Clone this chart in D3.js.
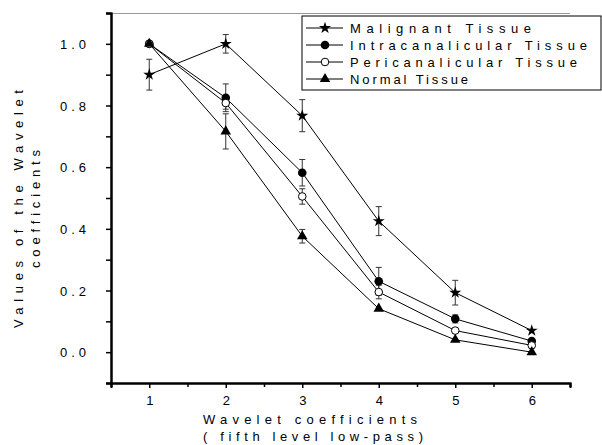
<!DOCTYPE html>
<html>
<head>
<meta charset="utf-8">
<script src="https://cdn.jsdelivr.net/npm/d3@7"></script>
<style>
body{margin:0;background:#fff;}
text{font-family:"Liberation Sans",Arial,sans-serif;fill:#000;}
</style>
</head>
<body>
<script>
const svg_width = 602, svg_height = 445;
// data
var coefs = [1,2,3,4,5,6];
var seriesNames = ["Malignant Tissue","Intracanalicular Tissue","Pericanalicular Tissue","Normal Tissue"];
var malignant = [0.90,1.00,0.767,0.425,0.193,0.070];
var malignantErr = [0.05,0.03,0.052,0.047,0.04,0];
var intra = [1.00,0.825,0.582,0.230,0.108,0.036];
var intraErr = [0,0.045,0.043,0.045,0.013,0];
var peri = [1.00,0.808,0.505,0.195,0.070,0.022];
var periErr = [0,0.02,0.025,0.022,0,0];
var normal = [1.00,0.716,0.376,0.141,0.040,0.000];
var normalErr = [0,0.057,0.022,0,0,0];
var yTicks = [0.0,0.2,0.4,0.6,0.8,1.0];
var yMinor = [-0.1,0.1,0.3,0.5,0.7,0.9,1.1];
var xMinor = [0.5,1.5,2.5,3.5,4.5,5.5,6.5];

var series = [
	{name:seriesNames[0],vals:malignant,err:malignantErr,sym:"star"},
	{name:seriesNames[1],vals:intra,err:intraErr,sym:"dot"},
	{name:seriesNames[2],vals:peri,err:periErr,sym:"open"},
	{name:seriesNames[3],vals:normal,err:normalErr,sym:"tri"}
];

var pLeft = 111, pRight = 570, pTop = 13, pBottom = 383;
var svgContainer = d3.select("body").append("svg")
	.attr("width",svg_width).attr("height",svg_height);

var x = d3.scaleLinear().domain([0.5,6.5]).range([pLeft,pRight]);
var y = d3.scaleLinear().domain([-0.1,1.1]).range([pBottom,pTop]);

// top frame line (grey)
svgContainer.append("line")
	.attr("x1",pLeft).attr("x2",pRight).attr("y1",pTop+0.5).attr("y2",pTop+0.5)
	.attr("stroke","#999").attr("stroke-width",1);

// y axis
var yAxis = svgContainer.append("g").attr("transform","translate("+pLeft+",0)")
	.call(d3.axisLeft(y).tickValues(yTicks).tickSize(5).tickPadding(16).tickFormat(d3.format(".1f")));
svgContainer.append("g").attr("transform","translate("+pLeft+",0)")
	.call(d3.axisLeft(y).tickValues(yMinor).tickSize(5).tickFormat(""));
// x axis
var xAxis = svgContainer.append("g").attr("transform","translate(0,"+pBottom+")")
	.call(d3.axisBottom(x).tickValues(coefs).tickSize(5).tickPadding(8).tickFormat(d3.format("d")));
svgContainer.append("g").attr("transform","translate(0,"+pBottom+")")
	.call(d3.axisBottom(x).tickValues(xMinor).tickSize(4).tickFormat(""));

svgContainer.selectAll(".domain").attr("stroke","#000").attr("stroke-width",2);
svgContainer.selectAll(".tick line").attr("stroke","#000").attr("stroke-width",1.5);
yAxis.selectAll("text").attr("font-size",13).attr("letter-spacing","4px").attr("dy","0.35em")
	.attr("font-family","Liberation Sans, Arial, sans-serif");
xAxis.selectAll("text").attr("font-size",13)
	.attr("font-family","Liberation Sans, Arial, sans-serif");

// axis titles
var ytitle = svgContainer.append("g").attr("transform","translate(0,209) rotate(-90)");
ytitle.append("text").attr("x",0).attr("y",23).attr("text-anchor","middle").attr("font-size",13)
	.attr("textLength",238).attr("lengthAdjust","spacing").text("Values of the Wavelet");
ytitle.append("text").attr("x",0).attr("y",40).attr("text-anchor","middle").attr("font-size",13)
	.attr("textLength",118).attr("lengthAdjust","spacing").text("coefficients");
svgContainer.append("text").attr("x",203).attr("y",424).attr("font-size",13)
	.attr("textLength",214).attr("lengthAdjust","spacing").text("Wavelet coefficients");
svgContainer.append("text").attr("x",203).attr("y",441).attr("font-size",13)
	.attr("textLength",220).attr("lengthAdjust","spacing").text("( fifth level low-pass)");

var line = d3.line().x(function(d,i){return x(coefs[i])}).y(function(d){return y(d)});

function drawSymbol(g,sym,cx,cy){
	if (sym=="star") {
		g.append("path").attr("d",d3.symbol().type(d3.symbolStar).size(45)())
			.attr("transform","translate("+cx+","+cy+")").attr("fill","#000");
	} else if (sym=="dot") {
		g.append("circle").attr("cx",cx).attr("cy",cy).attr("r",4.3).attr("fill","#000");
	} else if (sym=="open") {
		g.append("circle").attr("cx",cx).attr("cy",cy).attr("r",3.8).attr("fill","#fff")
			.attr("stroke","#000").attr("stroke-width",1);
	} else {
		g.append("path").attr("d",d3.symbol().type(d3.symbolTriangle).size(48)())
			.attr("transform","translate("+cx+","+cy+")").attr("fill","#000");
	}
}

var plot = svgContainer.append("g");
// lines first
series.forEach(function(s){
	plot.append("path").attr("d",line(s.vals)).attr("fill","none")
		.attr("stroke","#000").attr("stroke-width",1);
});
// error bars
series.forEach(function(s){
	s.vals.forEach(function(v,i){
		var e = s.err[i];
		if (!e) return;
		var cx = x(coefs[i]);
		var eg = plot.append("g").attr("stroke","#333").attr("stroke-width",1);
		eg.append("line").attr("x1",cx).attr("x2",cx).attr("y1",y(v+e)).attr("y2",y(v-e));
		eg.append("line").attr("x1",cx-3).attr("x2",cx+3).attr("y1",y(v+e)).attr("y2",y(v+e));
		eg.append("line").attr("x1",cx-3).attr("x2",cx+3).attr("y1",y(v-e)).attr("y2",y(v-e));
	});
});
// symbols
series.forEach(function(s){
	s.vals.forEach(function(v,i){
		drawSymbol(plot,s.sym,x(coefs[i]),y(v));
	});
});

// legend
var lg = svgContainer.append("g");
lg.append("rect").attr("x",302).attr("y",16).attr("width",299).attr("height",74)
	.attr("fill","#fff").attr("stroke","#000").attr("stroke-width",1);
var legendWidths = [181,237,227,118];
series.forEach(function(s,i){
	var ly = 28 + i*17;
	lg.append("line").attr("x1",306).attr("x2",343).attr("y1",ly).attr("y2",ly)
		.attr("stroke","#000").attr("stroke-width",1);
	drawSymbol(lg,s.sym,325,ly);
	lg.append("text").attr("x",350).attr("y",ly+5).attr("font-size",13)
		.attr("textLength",legendWidths[i]).attr("lengthAdjust","spacing").text(s.name);
});
</script>
</body>
</html>
